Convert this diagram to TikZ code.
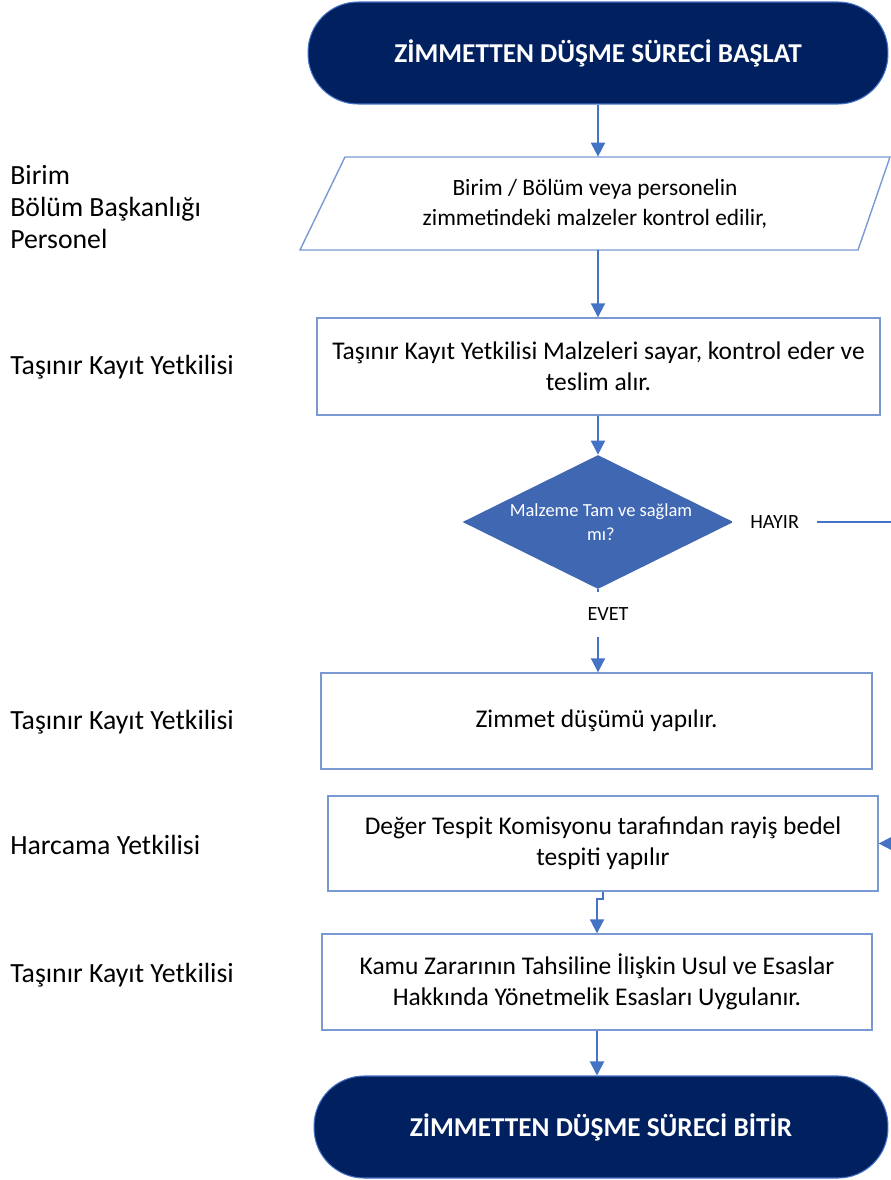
\documentclass[tikz,border=0pt]{standalone}
\usepackage{fontspec}
\setmainfont{Carlito}
\usetikzlibrary{shapes.geometric}
\usetikzlibrary{arrows.meta}

\definecolor{navy}{RGB}{0,32,96}
\definecolor{linkblue}{RGB}{68,114,196}
\definecolor{boxblue}{RGB}{122,153,210}
\definecolor{decblue}{RGB}{63,103,178}

\begin{document}
\begin{tikzpicture}[x=0.02cm,y=-0.02cm,
  term/.style={rectangle,rounded corners=1cm,fill=navy,draw=linkblue,line width=0.6pt,
    minimum width=11.6cm,minimum height=2.04cm,text=white,font=\fontsize{15.5}{18}\selectfont\bfseries},
  iotext/.style={minimum width=11.8cm,minimum height=1.86cm,align=center,
    font=\fontsize{13.3}{17}\selectfont},
  boxline/.style={draw=boxblue,line width=0.8pt},
  procbox/.style={rectangle,boxline,minimum height=1.92cm,align=center,
    font=\fontsize{14.5}{17.5}\selectfont},
  dec/.style={diamond,fill=decblue,minimum width=5.42cm,minimum height=2.68cm,inner sep=0pt},
  link/.style={draw=linkblue,line width=1.1pt,-{Triangle[width=8pt,length=8pt]}},
  role/.style={anchor=west,align=left,inner xsep=0pt,font=\fontsize{15.8}{18}\selectfont},
  tag/.style={font=\fontsize{11.5}{13}\selectfont,fill=white}]

\useasboundingbox (0,0) rectangle (891,1180);
\clip (0,0) rectangle (891,1180);

\node[term] (start) at (598,53) {ZİMMETTEN DÜŞME SÜRECİ BAŞLAT};
\draw[boxline] (345,157) -- (890,157) -- (858,250) -- (300,250) -- cycle;
\node[iotext] (check) at (595,203.5) {Birim / Bölüm veya personelin\\zimmetindeki malzeler kontrol edilir,};
\node[procbox,minimum width=11.26cm,minimum height=1.94cm] (count) at (598.5,366.5)
  {Taşınır Kayıt Yetkilisi Malzeleri sayar, kontrol eder ve\\teslim alır.};
\node[dec,label={[text=white,align=center,xshift=1.7pt,font=\fontsize{10.5}{13.6}\selectfont]center:Malzeme Tam ve sağlam\\mı?}]
  (ok) at (598,522) {};
\node[procbox,minimum width=11.02cm] (drop) at (596.5,721) {Zimmet düşümü yapılır.};
\node[procbox,minimum width=11cm,minimum height=1.9cm] (value) at (603,843.5)
  {Değer Tespit Komisyonu tarafından rayiş bedel\\tespiti yapılır};
\node[procbox,minimum width=11cm] (apply) at (597,982)
  {Kamu Zararının Tahsiline İlişkin Usul ve Esaslar\\Hakkında Yönetmelik Esasları Uygulanır.};
\node[term,minimum width=11.48cm] (stop) at (601,1127) {ZİMMETTEN DÜŞME SÜRECİ BİTİR};

\node[role] (unit) at (10,207) {Birim\\Bölüm Başkanlığı\\Personel};
\node[role] (clerk1) at (10,367) {Taşınır Kayıt Yetkilisi};
\node[role] (clerk2) at (10,722) {Taşınır Kayıt Yetkilisi};
\node[role] (spender) at (10,845) {Harcama Yetkilisi};
\node[role] (clerk3) at (10,975) {Taşınır Kayıt Yetkilisi};

\draw[link] (start.south) -- (start.south |- check.north);
\draw[link] (check.south -| start.south) -- (start.south |- count.north);
\draw[link] (count.south -| ok.north) -- (ok.north);
\draw[link] (ok.south) -- node[tag,pos=0.3,inner ysep=9pt,xshift=5.7pt] {EVET} (ok.south |- drop.north);
\draw[link] (ok.east) -- node[tag,pos=0.215,inner xsep=10.5pt] {HAYIR} ++(190,0) |- (value.east);
\draw[link] (value.south) -- ++(0,7) -| (apply.north);
\draw[link] (apply.south) -- (apply.south |- stop.north);

\end{tikzpicture}
\end{document}
